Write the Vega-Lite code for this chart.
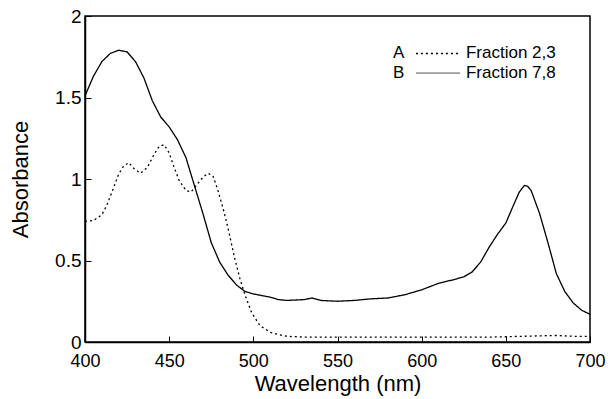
{
  "$schema": "https://vega.github.io/schema/vega-lite/v6.json",
  "width": 505,
  "height": 326,
  "autosize": "none",
  "padding": {"left": 85, "top": 16, "right": 18, "bottom": 57},
  "background": "white",
  "config": {
    "view": {"stroke": "black", "strokeWidth": 1.5},
    "axis": {
      "domainColor": "black", "domainWidth": 1.5,
      "tickColor": "black", "tickWidth": 1,
      "labelColor": "black", "titleColor": "black",
      "labelFont": "Liberation Sans", "titleFont": "Liberation Sans",
      "titleFontWeight": "normal", "grid": false, "labelFlush": false
    },
    "text": {"font": "Liberation Sans", "color": "black"}
  },
  "datasets": {
    "spectra": [
      {"wl": 400, "abs": 0.74, "series": "A"},
      {"wl": 405, "abs": 0.745, "series": "A"},
      {"wl": 410, "abs": 0.78, "series": "A"},
      {"wl": 413, "abs": 0.84, "series": "A"},
      {"wl": 416, "abs": 0.92, "series": "A"},
      {"wl": 420, "abs": 1.03, "series": "A"},
      {"wl": 423, "abs": 1.08, "series": "A"},
      {"wl": 426, "abs": 1.1, "series": "A"},
      {"wl": 429, "abs": 1.065, "series": "A"},
      {"wl": 433, "abs": 1.035, "series": "A"},
      {"wl": 437, "abs": 1.07, "series": "A"},
      {"wl": 441, "abs": 1.15, "series": "A"},
      {"wl": 444, "abs": 1.2, "series": "A"},
      {"wl": 447, "abs": 1.21, "series": "A"},
      {"wl": 450, "abs": 1.16, "series": "A"},
      {"wl": 453, "abs": 1.07, "series": "A"},
      {"wl": 456, "abs": 0.99, "series": "A"},
      {"wl": 460, "abs": 0.93, "series": "A"},
      {"wl": 463, "abs": 0.92, "series": "A"},
      {"wl": 466, "abs": 0.96, "series": "A"},
      {"wl": 470, "abs": 1.01, "series": "A"},
      {"wl": 473, "abs": 1.035, "series": "A"},
      {"wl": 476, "abs": 1.02, "series": "A"},
      {"wl": 479, "abs": 0.93, "series": "A"},
      {"wl": 482, "abs": 0.82, "series": "A"},
      {"wl": 484, "abs": 0.74, "series": "A"},
      {"wl": 486, "abs": 0.65, "series": "A"},
      {"wl": 489, "abs": 0.51, "series": "A"},
      {"wl": 492, "abs": 0.39, "series": "A"},
      {"wl": 495, "abs": 0.29, "series": "A"},
      {"wl": 499, "abs": 0.18, "series": "A"},
      {"wl": 504, "abs": 0.1, "series": "A"},
      {"wl": 510, "abs": 0.06, "series": "A"},
      {"wl": 515, "abs": 0.045, "series": "A"},
      {"wl": 520, "abs": 0.035, "series": "A"},
      {"wl": 530, "abs": 0.03, "series": "A"},
      {"wl": 560, "abs": 0.03, "series": "A"},
      {"wl": 600, "abs": 0.03, "series": "A"},
      {"wl": 640, "abs": 0.03, "series": "A"},
      {"wl": 660, "abs": 0.035, "series": "A"},
      {"wl": 680, "abs": 0.04, "series": "A"},
      {"wl": 690, "abs": 0.035, "series": "A"},
      {"wl": 700, "abs": 0.035, "series": "A"},
      {"wl": 400, "abs": 1.51, "series": "B"},
      {"wl": 405, "abs": 1.63, "series": "B"},
      {"wl": 410, "abs": 1.72, "series": "B"},
      {"wl": 415, "abs": 1.77, "series": "B"},
      {"wl": 420, "abs": 1.79, "series": "B"},
      {"wl": 425, "abs": 1.78, "series": "B"},
      {"wl": 430, "abs": 1.72, "series": "B"},
      {"wl": 435, "abs": 1.62, "series": "B"},
      {"wl": 440, "abs": 1.48, "series": "B"},
      {"wl": 445, "abs": 1.38, "series": "B"},
      {"wl": 450, "abs": 1.32, "series": "B"},
      {"wl": 455, "abs": 1.24, "series": "B"},
      {"wl": 460, "abs": 1.13, "series": "B"},
      {"wl": 465, "abs": 0.96, "series": "B"},
      {"wl": 470, "abs": 0.79, "series": "B"},
      {"wl": 475, "abs": 0.61, "series": "B"},
      {"wl": 480, "abs": 0.49, "series": "B"},
      {"wl": 485, "abs": 0.41, "series": "B"},
      {"wl": 490, "abs": 0.35, "series": "B"},
      {"wl": 495, "abs": 0.31, "series": "B"},
      {"wl": 500, "abs": 0.295, "series": "B"},
      {"wl": 505, "abs": 0.285, "series": "B"},
      {"wl": 510, "abs": 0.275, "series": "B"},
      {"wl": 515, "abs": 0.26, "series": "B"},
      {"wl": 520, "abs": 0.255, "series": "B"},
      {"wl": 530, "abs": 0.26, "series": "B"},
      {"wl": 535, "abs": 0.27, "series": "B"},
      {"wl": 540, "abs": 0.255, "series": "B"},
      {"wl": 550, "abs": 0.25, "series": "B"},
      {"wl": 560, "abs": 0.255, "series": "B"},
      {"wl": 570, "abs": 0.265, "series": "B"},
      {"wl": 580, "abs": 0.27, "series": "B"},
      {"wl": 590, "abs": 0.29, "series": "B"},
      {"wl": 600, "abs": 0.32, "series": "B"},
      {"wl": 610, "abs": 0.36, "series": "B"},
      {"wl": 620, "abs": 0.385, "series": "B"},
      {"wl": 625, "abs": 0.4, "series": "B"},
      {"wl": 630, "abs": 0.43, "series": "B"},
      {"wl": 635, "abs": 0.49, "series": "B"},
      {"wl": 640, "abs": 0.58, "series": "B"},
      {"wl": 645, "abs": 0.66, "series": "B"},
      {"wl": 650, "abs": 0.73, "series": "B"},
      {"wl": 655, "abs": 0.85, "series": "B"},
      {"wl": 658, "abs": 0.92, "series": "B"},
      {"wl": 661, "abs": 0.96, "series": "B"},
      {"wl": 663, "abs": 0.955, "series": "B"},
      {"wl": 665, "abs": 0.93, "series": "B"},
      {"wl": 670, "abs": 0.79, "series": "B"},
      {"wl": 675, "abs": 0.61, "series": "B"},
      {"wl": 680, "abs": 0.42, "series": "B"},
      {"wl": 685, "abs": 0.31, "series": "B"},
      {"wl": 690, "abs": 0.24, "series": "B"},
      {"wl": 695, "abs": 0.195, "series": "B"},
      {"wl": 700, "abs": 0.17, "series": "B"}
    ]
  },
  "layer": [
    {
      "data": {"name": "spectra"},
      "mark": {"type": "line", "color": "black", "strokeWidth": 1.3},
      "encoding": {
        "x": {
          "field": "wl", "type": "quantitative",
          "scale": {"domain": [400, 700], "nice": false},
          "axis": {
            "title": "Wavelength (nm)", "values": [400, 450, 500, 550, 600, 650, 700],
            "tickSize": -6, "labelFontSize": 18, "titleFontSize": 22,
            "labelPadding": 16, "titlePadding": 3
          }
        },
        "y": {
          "field": "abs", "type": "quantitative",
          "scale": {"domain": [0, 2], "nice": false},
          "axis": {
            "title": "Absorbance", "values": [0, 0.5, 1, 1.5, 2],
            "labelExpr": "'' + datum.value",
            "tickSize": -6, "labelFontSize": 19, "titleFontSize": 22,
            "labelPadding": 10, "titlePadding": 22
          }
        },
        "strokeDash": {
          "field": "series", "type": "nominal",
          "scale": {"domain": ["A", "B"], "range": [[2, 3], [1, 0]]},
          "legend": null
        }
      }
    },
    {
      "data": {"values": [{"t": "A"}]},
      "mark": {"type": "text", "align": "left", "baseline": "middle", "fontSize": 17},
      "encoding": {"x": {"datum": 583}, "y": {"datum": 1.77}, "text": {"field": "t"}}
    },
    {
      "data": {"values": [{"t": "A"}]},
      "mark": {"type": "rule", "color": "black", "strokeWidth": 1.3, "strokeDash": [2, 3]},
      "encoding": {"x": {"datum": 596.6}, "x2": {"datum": 622.8}, "y": {"datum": 1.77}}
    },
    {
      "data": {"values": [{"t": "Fraction 2,3"}]},
      "mark": {"type": "text", "align": "left", "baseline": "middle", "fontSize": 17},
      "encoding": {"x": {"datum": 626.3}, "y": {"datum": 1.77}, "text": {"field": "t"}}
    },
    {
      "data": {"values": [{"t": "B"}]},
      "mark": {"type": "text", "align": "left", "baseline": "middle", "fontSize": 17},
      "encoding": {"x": {"datum": 583}, "y": {"datum": 1.65}, "text": {"field": "t"}}
    },
    {
      "data": {"values": [{"t": "B"}]},
      "mark": {"type": "rule", "color": "#555555", "strokeWidth": 1},
      "encoding": {"x": {"datum": 596.6}, "x2": {"datum": 622.8}, "y": {"datum": 1.65}}
    },
    {
      "data": {"values": [{"t": "Fraction 7,8"}]},
      "mark": {"type": "text", "align": "left", "baseline": "middle", "fontSize": 17},
      "encoding": {"x": {"datum": 626.3}, "y": {"datum": 1.65}, "text": {"field": "t"}}
    }
  ]
}
